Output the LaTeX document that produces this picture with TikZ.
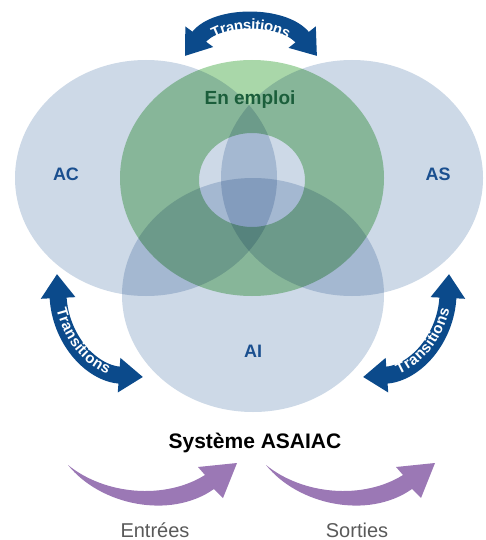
\documentclass[tikz,border=0pt]{standalone}
\usepackage{fontspec}
\setmainfont{Liberation Sans}
\usetikzlibrary{arrows.meta,decorations.text}
\definecolor{setblue}{HTML}{CDD9E7}
\definecolor{setgreen}{HTML}{A9D7A9}
\definecolor{transblue}{HTML}{0B4A8B}
\definecolor{lblblue}{HTML}{1A4F8F}
\definecolor{lblgreen}{HTML}{1B5E3B}
\definecolor{flowpurple}{HTML}{9B78B5}
\tikzset{
  setfill/.style={blend mode=multiply},
  lbl/.style={anchor=base,text=lblblue,font=\fontsize{18}{18}\selectfont\bfseries},
  trans/.style={draw=transblue,line width=17pt,>={Triangle[width=33pt,length=24pt]},<->},
  transtext/.style={decorate,decoration={text along path,text align=center,raise=-5.5pt,
    text color=white,text={|\fontsize{15}{15}\selectfont\bfseries|Transitions}}},
  foot/.style={anchor=base,text=black!65,font=\fontsize{20}{20}\selectfont}
}
\begin{document}
\begin{tikzpicture}[x=1pt,y=-1pt]
\useasboundingbox (0,0) rectangle (485,540);
\fill[setblue,setfill] (146,178) ellipse [x radius=131pt,y radius=118pt];
\fill[setblue,setfill] (352,178) ellipse [x radius=131pt,y radius=118pt];
\fill[setgreen,setfill,even odd rule] (252,178) ellipse [x radius=132pt,y radius=118pt]
  (252,180) ellipse [x radius=53pt,y radius=47pt];
\fill[setblue,setfill] (253,295) ellipse [x radius=131pt,y radius=117pt];
\node[lbl] (ac) at (66,180) {AC};
\node[lbl] (as) at (438,180) {AS};
\node[lbl] (ai) at (253,357) {AI};
\node[lbl,text=lblgreen,font=\fontsize{19}{19}\selectfont\bfseries] (emploi) at (250,105) {En emploi};
\coordinate (topl) at (185,56);
\coordinate (topr) at (317,56);
\coordinate (leftup) at (57,274);
\coordinate (leftdown) at (143,377);
\coordinate (rightdown) at (363,377);
\coordinate (rightup) at (449,274);
\draw[trans] (topl) .. controls (216,14) and (284,14) .. (topr);
\path[transtext] (topl) .. controls (216,14) and (284,14) .. (topr);
\draw[trans] (leftup) .. controls (60,338) and (90,373) .. (leftdown);
\path[transtext] (leftup) .. controls (60,338) and (90,373) .. (leftdown);
\draw[trans] (rightdown) .. controls (416,373) and (446,338) .. (rightup);
\path[transtext] (rightdown) .. controls (416,373) and (446,338) .. (rightup);
\node[anchor=base,font=\fontsize{21}{21}\selectfont\bfseries] (systeme) at (255,448) {Système ASAIAC};
\foreach \dx in {0,198}
  \fill[flowpurple,shift={(\dx,0)}] (68,465) .. controls (100,505) and (170,520) .. (214,489)
    -- (223,498) -- (237,463) -- (198,467) -- (205,475) .. controls (165,500) and (105,495) .. (68,465) -- cycle;
\node[foot] (entrees) at (155,537) {Entrées};
\node[foot] (sorties) at (357,537) {Sorties};
\end{tikzpicture}
\end{document}
